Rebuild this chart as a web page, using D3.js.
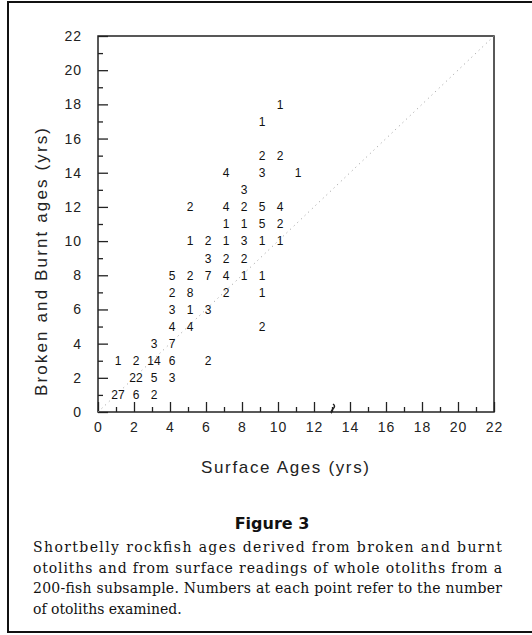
<!DOCTYPE html>
<html>
<head>
<meta charset="utf-8">
<script src="https://cdn.jsdelivr.net/npm/d3@7"></script>
<style>
  body { margin: 0; background: #fff; }
</style>
</head>
<body>
<script>
// Surface age (x), broken and burnt age (y), number of otoliths at that point
var surfaceAges = [1, 2, 3, 2, 3, 4, 1, 2, 3, 4, 6, 3, 4, 4, 5, 9, 4, 5, 6, 4, 5, 7, 9,
    4, 5, 6, 7, 8, 9, 6, 7, 8, 5, 6, 7, 8, 9, 10, 7, 8, 9, 10, 5, 7, 8, 9, 10,
    8, 7, 9, 11, 9, 10, 9, 10];
var burntAges = [1, 1, 1, 2, 2, 2, 3, 3, 3, 3, 3, 4, 4, 5, 5, 5, 6, 6, 6, 7, 7, 7, 7,
    8, 8, 8, 8, 8, 8, 9, 9, 9, 10, 10, 10, 10, 10, 10, 11, 11, 11, 11, 12, 12, 12, 12, 12,
    13, 14, 14, 14, 15, 15, 17, 18];
var counts = [27, 6, 2, 22, 5, 3, 1, 2, 14, 6, 2, 3, 7, 4, 4, 2, 3, 1, 3, 2, 8, 2, 1,
    5, 2, 7, 4, 1, 1, 3, 2, 2, 1, 2, 1, 3, 1, 1, 1, 1, 5, 2, 2, 4, 2, 5, 4,
    3, 4, 3, 1, 2, 2, 1, 1];

var majorTicks = [0, 2, 4, 6, 8, 10, 12, 14, 16, 18, 20, 22];
var minorTicks = [1, 3, 5, 7, 9, 11, 13, 15, 17, 19, 21];

var captionLines = [
    "Shortbelly rockfish ages derived from broken and burnt",
    "otoliths and from surface readings of whole otoliths from a",
    "200-fish subsample. Numbers at each point refer to the number",
    "of otoliths examined."
];

let drawChart = function() {
    let w = 532;
    let h = 635;

    let svg = d3.select("body")
        .append("svg")
        .attr("width", w)
        .attr("height", h);

    // outer frame (right edge runs off the page)
    svg.append("rect")
        .attr("x", 8).attr("y", 2)
        .attr("width", 530).attr("height", 630)
        .attr("fill", "none")
        .attr("stroke", "#111")
        .attr("stroke-width", 2);

    let x = d3.scaleLinear().domain([0, 22]).range([98, 494]);
    let y = d3.scaleLinear().domain([0, 22]).range([412, 36]);

    let tickFont = function(g) {
        g.selectAll("text")
            .attr("font-family", "Liberation Sans, Arial, sans-serif")
            .attr("font-size", "14px")
            .attr("letter-spacing", "1px")
            .attr("fill", "#222");
        g.selectAll("line").attr("stroke", "#222").attr("stroke-width", 1.3);
        g.select(".domain").remove();
    };

    // x axis: major and minor ticks point inward
    svg.append("g")
        .attr("transform", "translate(0," + y(0) + ")")
        .call(d3.axisBottom(x).tickValues(minorTicks).tickSize(-5).tickFormat(""))
        .call(tickFont);
    svg.append("g")
        .attr("transform", "translate(0," + y(0) + ")")
        .call(d3.axisBottom(x).tickValues(majorTicks).tickSize(-10).tickPadding(10))
        .call(tickFont);

    // y axis
    svg.append("g")
        .attr("transform", "translate(" + x(0) + ",0)")
        .call(d3.axisLeft(y).tickValues(minorTicks).tickSize(-5).tickFormat(""))
        .call(tickFont);
    svg.append("g")
        .attr("transform", "translate(" + x(0) + ",0)")
        .call(d3.axisLeft(y).tickValues(majorTicks).tickSize(-10).tickPadding(16))
        .call(tickFont);

    // plot box
    svg.append("rect")
        .attr("x", x(0)).attr("y", y(22))
        .attr("width", x(22) - x(0)).attr("height", y(0) - y(22))
        .attr("fill", "none")
        .attr("stroke", "#222")
        .attr("stroke-width", 1.5);

    // 1:1 line
    svg.append("line")
        .attr("x1", x(0)).attr("y1", y(0))
        .attr("x2", x(22)).attr("y2", y(22))
        .attr("stroke", "#999")
        .attr("stroke-width", 1)
        .attr("stroke-dasharray", "1,4");

    // small mark on the x axis near 13
    svg.append("path")
        .attr("d", "M" + (x(13) + 1) + "," + (y(0) - 8) +
            " q3,2 0,5 q-3,3 -1,4")
        .attr("fill", "none")
        .attr("stroke", "#222")
        .attr("stroke-width", 1.5);

    // count labels at each point
    let points = d3.range(counts.length);
    svg.selectAll("text.count")
        .data(points)
        .enter()
        .append("text")
        .attr("class", "count")
        .text(function(i) { return counts[i]; })
        .attr("x", function(i) { return x(surfaceAges[i]) + 2; })
        .attr("y", function(i) { return y(burntAges[i]); })
        .attr("dy", "0.36em")
        .attr("text-anchor", "middle")
        .attr("font-family", "Liberation Sans, Arial, sans-serif")
        .attr("font-size", "12px")
        .attr("fill", "#111");

    // axis titles
    svg.append("text")
        .text("Surface Ages (yrs)")
        .attr("x", 285).attr("y", 473)
        .attr("text-anchor", "middle")
        .attr("textLength", 168)
        .attr("font-family", "Liberation Sans, Arial, sans-serif")
        .attr("font-size", "17px")
        .attr("fill", "#222");

    svg.append("text")
        .text("Broken and Burnt ages (yrs)")
        .attr("transform", "translate(47,262) rotate(-90)")
        .attr("text-anchor", "middle")
        .attr("textLength", 268)
        .attr("font-family", "Liberation Sans, Arial, sans-serif")
        .attr("font-size", "17px")
        .attr("fill", "#222");

    // figure title and caption
    svg.append("text")
        .text("Figure 3")
        .attr("x", 272).attr("y", 529)
        .attr("text-anchor", "middle")
        .attr("font-family", "DejaVu Sans, sans-serif")
        .attr("font-weight", "bold")
        .attr("font-size", "16px")
        .attr("fill", "#111");

    svg.selectAll("text.caption")
        .data(captionLines)
        .enter()
        .append("text")
        .attr("class", "caption")
        .text(function(d) { return d; })
        .attr("x", 33)
        .attr("y", function(d, i) { return 552 + i * 20.5; })
        .attr("textLength", function(d, i) { return i < 3 ? 469 : null; })
        .attr("lengthAdjust", "spacing")
        .attr("font-family", "DejaVu Serif, serif")
        .attr("font-size", "14px")
        .attr("fill", "#111");
}

drawChart();
</script>
</body>
</html>
